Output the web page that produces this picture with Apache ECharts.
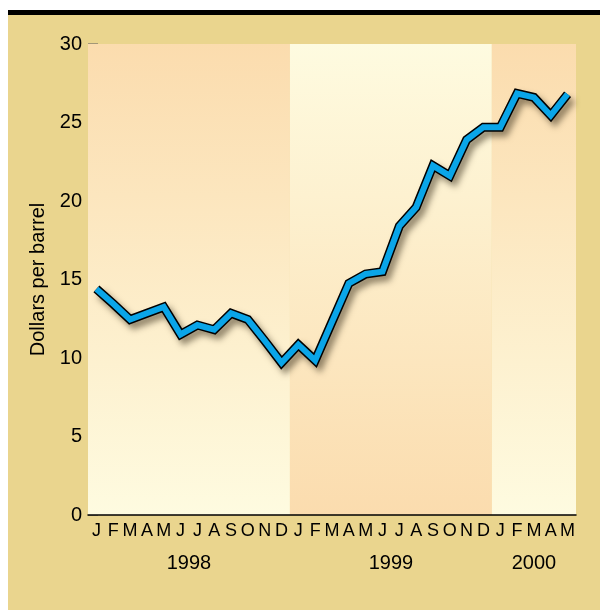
<!DOCTYPE html>
<html>
<head>
    <meta charset="utf-8">
    <title>Oil price</title>
    <script src="https://cdn.jsdelivr.net/npm/echarts@6/dist/echarts.min.js"></script>
    <style>
        body { margin: 0; background: #fff; }
        #main { position: absolute; left: 0; top: 0; width: 600px; height: 610px; }
    </style>
</head>
<body>
    <div id="main"></div>
    <script type="text/javascript">
        // months Jan 1998 - May 2000
        var months = ['J','F','M','A','M','J','J','A','S','O','N','D',
                      'J','F','M','A','M','J','J','A','S','O','N','D',
                      'J','F','M','A','M'];
        var prices = [14.4, 13.45, 12.45, 12.85, 13.25, 11.5, 12.1, 11.8, 12.85, 12.45, 11.1, 9.7,
                      10.85, 9.85, 12.3, 14.75, 15.35, 15.5, 18.4, 19.6, 22.25, 21.6, 23.9, 24.7,
                      24.7, 26.85, 26.6, 25.45, 26.8];
        var years = ['1998', '1999', '2000'];
        var yearStart = [0, 12, 24];
        var yearEnd = [12, 24, 29];
        var yTicks = [0, 5, 10, 15, 20, 25, 30];

        var peach = '#fbdcae', cream = '#fefbe0';
        function grad(top, bottom) {
            return new echarts.graphic.LinearGradient(0, 0, 0, 1, [
                { offset: 0, color: top }, { offset: 1, color: bottom }
            ]);
        }
        var bandColors = [grad(peach, cream), grad(cream, peach), grad(peach, cream)];

        var bands = years.map(function (y, i) {
            return [
                { xAxis: yearStart[i], name: y, itemStyle: { color: bandColors[i] } },
                { xAxis: yearEnd[i] }
            ];
        });

        var myChart = echarts.init(document.getElementById('main'));
        var font = 'Liberation Sans, Arial, sans-serif';
        var option = {
            animation: false,
            backgroundColor: '#fff',
            textStyle: { fontFamily: font },
            graphic: [
                { type: 'rect', z: -10, shape: { x: 8, y: 15, width: 592, height: 595 }, style: { fill: '#ead58e' } },
                { type: 'rect', z: -10, shape: { x: 8, y: 10, width: 592, height: 5 }, style: { fill: '#000' } }
            ],
            grid: { left: 88, right: 24, top: 44, bottom: 95 },
            xAxis: [{
                type: 'category',
                data: months,
                boundaryGap: true,
                axisLine: { lineStyle: { color: '#000', width: 1.5 } },
                axisTick: { inside: true, length: 11, interval: 0, lineStyle: { color: '#000', width: 1 } },
                axisLabel: { interval: 0, color: '#000', fontSize: 18, margin: 7, fontFamily: font },
                z: 5
            }, {
                type: 'value',
                min: 0,
                max: 29,
                show: false
            }],
            yAxis: {
                type: 'value',
                min: yTicks[0],
                max: yTicks[yTicks.length - 1],
                interval: 5,
                name: 'Dollars per barrel',
                nameLocation: 'middle',
                nameRotate: 90,
                nameGap: 38,
                nameTextStyle: { color: '#000', fontSize: 20, fontFamily: font },
                axisLine: { show: false },
                axisTick: { show: true, inside: true, length: 10, lineStyle: { color: '#8c8270', width: 1.5 } },
                axisLabel: { color: '#000', fontSize: 20, margin: 6, fontFamily: font },
                splitLine: { show: false }
            },
            series: [{
                // year background bands
                type: 'line',
                xAxisIndex: 1,
                data: [[0, 0], [29, 0]],
                symbol: 'none',
                lineStyle: { opacity: 0 },
                silent: true,
                z: 0,
                markArea: {
                    silent: true,
                    label: {
                        show: true,
                        position: 'bottom',
                        distance: 38,
                        color: '#000',
                        fontSize: 20,
                        fontFamily: font
                    },
                    data: bands
                }
            }, {
                type: 'line',
                data: prices,
                symbol: 'none',
                z: 3,
                lineStyle: {
                    color: '#000', width: 9, join: 'miter',
                    shadowColor: 'rgba(60,50,30,0.55)', shadowBlur: 6,
                    shadowOffsetX: 4, shadowOffsetY: 5
                }
            }, {
                type: 'line',
                data: prices,
                symbol: 'none',
                z: 4,
                lineStyle: { color: '#0aa5e8', width: 6, join: 'miter' }
            }]
        };
        myChart.setOption(option);
    </script>
</body>
</html>
